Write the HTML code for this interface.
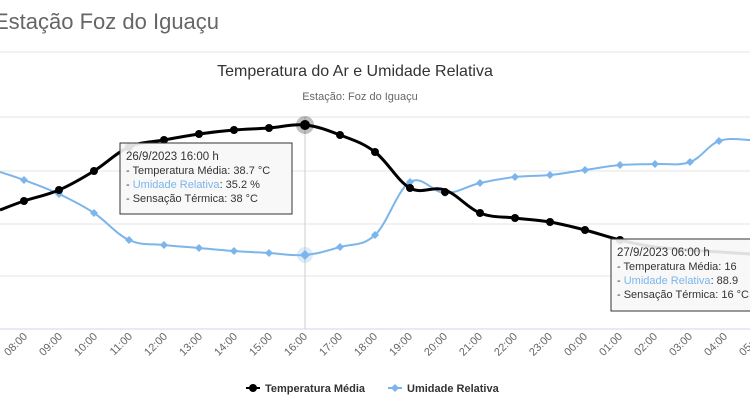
<!DOCTYPE html>
<html><head><meta charset="utf-8"><style>
body{margin:0;width:750px;height:413px;overflow:hidden;background:#fff;font-family:"Liberation Sans",sans-serif}
</style></head><body>
<svg width="750" height="413" xmlns="http://www.w3.org/2000/svg" font-family="Liberation Sans, sans-serif">
<text x="-6" y="29" font-size="22" fill="#666">Estação Foz do Iguaçu</text>
<line x1="0" y1="52" x2="750" y2="52" stroke="#e5e5e5"/>
<text x="355" y="76" font-size="16" fill="#333" text-anchor="middle">Temperatura do Ar e Umidade Relativa</text>
<text x="360" y="100" font-size="11" fill="#666" text-anchor="middle">Estação: Foz do Iguaçu</text>
<g stroke="#e6e6e6">
<line x1="0" y1="117" x2="750" y2="117"/><line x1="0" y1="171" x2="750" y2="171"/>
<line x1="0" y1="224" x2="750" y2="224"/><line x1="0" y1="276" x2="750" y2="276"/>
</g>
<line x1="0" y1="329" x2="750" y2="329" stroke="#ccd6eb"/>
<line x1="305" y1="117" x2="305" y2="329" stroke="#ccc"/>
<g font-size="11" fill="#666" text-anchor="end">
<text transform="translate(28,337) rotate(-45)">08:00</text>
<text transform="translate(63,337) rotate(-45)">09:00</text>
<text transform="translate(98,337) rotate(-45)">10:00</text>
<text transform="translate(133,337) rotate(-45)">11:00</text>
<text transform="translate(168,337) rotate(-45)">12:00</text>
<text transform="translate(203,337) rotate(-45)">13:00</text>
<text transform="translate(238,337) rotate(-45)">14:00</text>
<text transform="translate(273,337) rotate(-45)">15:00</text>
<text transform="translate(308,337) rotate(-45)">16:00</text>
<text transform="translate(343,337) rotate(-45)">17:00</text>
<text transform="translate(378,337) rotate(-45)">18:00</text>
<text transform="translate(413,337) rotate(-45)">19:00</text>
<text transform="translate(448,337) rotate(-45)">20:00</text>
<text transform="translate(483,337) rotate(-45)">21:00</text>
<text transform="translate(518,337) rotate(-45)">22:00</text>
<text transform="translate(553,337) rotate(-45)">23:00</text>
<text transform="translate(588,337) rotate(-45)">00:00</text>
<text transform="translate(623,337) rotate(-45)">01:00</text>
<text transform="translate(658,337) rotate(-45)">02:00</text>
<text transform="translate(693,337) rotate(-45)">03:00</text>
<text transform="translate(728,337) rotate(-45)">04:00</text>
<text transform="translate(763,337) rotate(-45)">05:00</text>
</g>
<path id="blue" fill="none" stroke="#7cb5ec" stroke-width="2" d=""/>
<g fill="#7cb5ec">
<path d="M24,176l4,4-4,4-4-4z"/><path d="M59,190l4,4-4,4-4-4z"/><path d="M94,209l4,4-4,4-4-4z"/><path d="M129,236l4,4-4,4-4-4z"/><path d="M164,241l4,4-4,4-4-4z"/><path d="M199,244l4,4-4,4-4-4z"/><path d="M234,247l4,4-4,4-4-4z"/><path d="M269,249l4,4-4,4-4-4z"/><path d="M340,243l4,4-4,4-4-4z"/><path d="M375,231l4,4-4,4-4-4z"/><path d="M410,178l4,4-4,4-4-4z"/><path d="M445,189l4,4-4,4-4-4z"/><path d="M480,179l4,4-4,4-4-4z"/><path d="M515,173l4,4-4,4-4-4z"/><path d="M550,171l4,4-4,4-4-4z"/><path d="M585,166l4,4-4,4-4-4z"/><path d="M620,161l4,4-4,4-4-4z"/><path d="M655,160l4,4-4,4-4-4z"/><path d="M690,158l4,4-4,4-4-4z"/><path d="M719,137l4,4-4,4-4-4z"/>
</g>
<circle cx="305" cy="255" r="8" fill="#7cb5ec" opacity="0.25"/><path d="M305,250l5,5-5,5-5-5z" fill="#7cb5ec"/>
<path id="black" fill="none" stroke="#000" stroke-width="3" d=""/>
<g fill="#000">
<circle cx="24" cy="201" r="4"/><circle cx="59" cy="190" r="4"/><circle cx="94" cy="171" r="4"/><circle cx="129" cy="147" r="4"/><circle cx="164" cy="140" r="4"/><circle cx="199" cy="134" r="4"/><circle cx="234" cy="130" r="4"/><circle cx="269" cy="128" r="4"/><circle cx="340" cy="135" r="4"/><circle cx="375" cy="152" r="4"/><circle cx="410" cy="188" r="4"/><circle cx="445" cy="192" r="4"/><circle cx="480" cy="213" r="4"/><circle cx="515" cy="218" r="4"/><circle cx="550" cy="222" r="4"/><circle cx="585" cy="230" r="4"/><circle cx="620" cy="240" r="4"/>
</g>
<circle cx="305" cy="125" r="9" fill="#000" opacity="0.25"/><circle cx="305" cy="125" r="5" fill="#000"/>
<g>
<rect x="120" y="143" width="172" height="71" fill="#f7f7f7" fill-opacity="0.9" stroke="#333" stroke-width="1"/>
<text x="126" y="160" font-size="11.5" fill="#333">26/9/2023 16:00 h</text>
<text x="126" y="174" font-size="11" fill="#333">- Temperatura Média: 38.7 °C</text>
<text x="126" y="188" font-size="11" fill="#333">- <tspan fill="#7cb5ec">Umidade Relativa</tspan>: 35.2 %</text>
<text x="126" y="202" font-size="11" fill="#333">- Sensação Térmica: 38 °C</text>
</g>
<g>
<rect x="611" y="239" width="150" height="72" fill="#f7f7f7" fill-opacity="0.9" stroke="#333" stroke-width="1"/>
<text x="617" y="256" font-size="11.5" fill="#333">27/9/2023 06:00 h</text>
<text x="617" y="270" font-size="11" fill="#333">- Temperatura Média: 16</text>
<text x="617" y="284" font-size="11" fill="#333">- <tspan fill="#7cb5ec">Umidade Relativa</tspan>: 88.9</text>
<text x="617" y="298" font-size="11" fill="#333">- Sensação Térmica: 16 °C</text>
</g>
<line x1="246" y1="388" x2="260" y2="388" stroke="#000" stroke-width="2"/><circle cx="253" cy="388" r="4"/>
<text x="265" y="392" font-size="11" fill="#333" font-weight="bold">Temperatura Média</text>
<line x1="388" y1="388" x2="402" y2="388" stroke="#7cb5ec" stroke-width="2"/><path d="M395,384l4,4-4,4-4-4z" fill="#7cb5ec"/>
<text x="407" y="392" font-size="11" fill="#333" font-weight="bold">Umidade Relativa</text>
</svg>
<script>
function sm(p){var d="M"+p[0][0]+","+p[0][1];for(var i=0;i<p.length-1;i++){var a=p[i-1]||p[i],b=p[i],c=p[i+1],e=p[i+2]||c;var t=0.18;d+=" C"+(b[0]+(c[0]-a[0])*t)+","+(b[1]+(c[1]-a[1])*t)+" "+(c[0]-(e[0]-b[0])*t)+","+(c[1]-(e[1]-b[1])*t)+" "+c[0]+","+c[1];}return d;}
var B=[[0,172],[24,180],[59,194],[94,213],[129,240],[164,245],[199,248],[234,251],[269,253],[305,255],[340,247],[375,235],[410,182],[445,193],[480,183],[515,177],[550,175],[585,170],[620,165],[655,164],[690,162],[719,141],[750,140]];
var K=[[0,210],[24,201],[59,190],[94,171],[129,147],[164,140],[199,134],[234,130],[269,128],[305,125],[340,135],[375,152],[410,188],[445,190],[480,213],[515,218],[550,222],[585,230],[620,240],[655,247],[690,250],[720,252],[750,254]];
document.getElementById("blue").setAttribute("d",sm(B));
document.getElementById("black").setAttribute("d",sm(K));
</script>
</body></html>
